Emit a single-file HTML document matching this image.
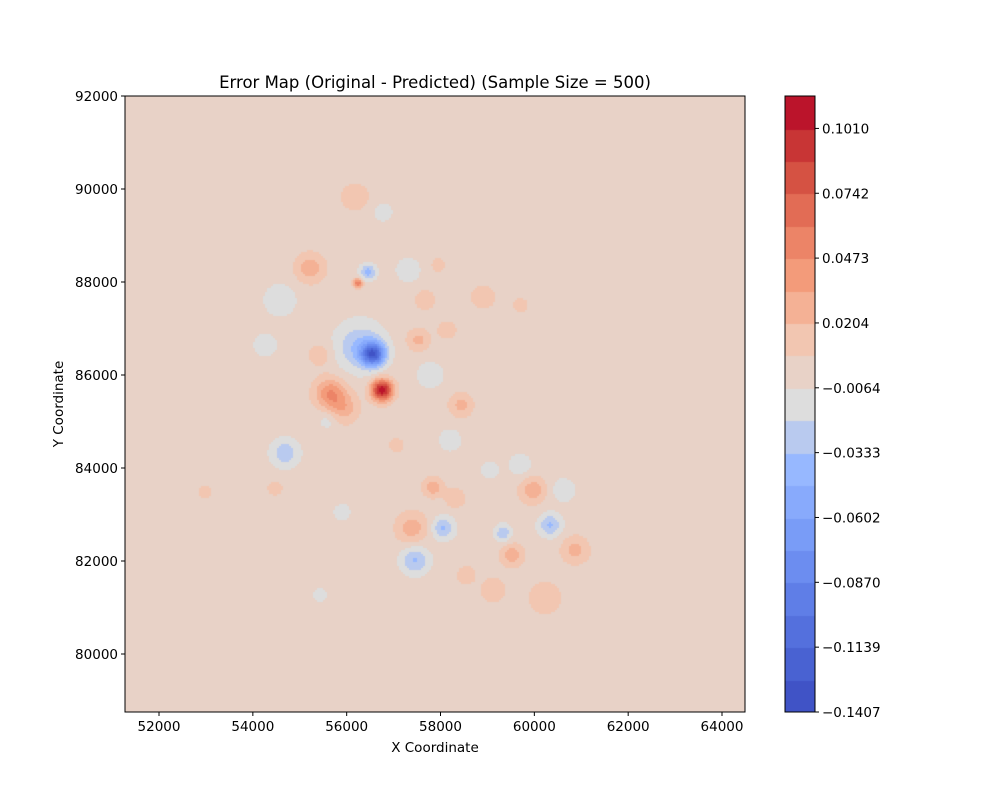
<!DOCTYPE html>
<html><head><meta charset="utf-8">
<style>
body{margin:0;background:#fff;}
#fig{position:relative;width:1000px;height:800px;background:#fff;font-family:"DejaVu Sans","Liberation Sans",sans-serif;}
canvas{position:absolute;}
svg{position:absolute;left:0;top:0;font-family:"DejaVu Sans","Liberation Sans",sans-serif;}
</style></head>
<body>
<div id="fig">
<canvas id="map" width="620" height="616" style="left:125px;top:96px"></canvas>
<canvas id="cbar" width="30" height="616" style="left:785px;top:96px"></canvas>
<svg id="ax" width="1000" height="800"></svg>
</div>
<script>
// blob data: centers (data units), amplitudes, spreads
const blobX=[56560,56285,56754,55646,55923,55219,56456,56243,56179,56776,57842,58055,57458,57394,58439,59974,60336,60613,59526,60869,60230,59121,54686,59697,59334,57522,58140,54580,54260,54473,52981,55433,55902,55433,57778,57671,57309,58908,55603,57053,59057,58545,57948,59697,58204,58311];
const blobY=[86450,86600,85676,85611,85289,88300,88214,87978,89827,89505,83590,82708,82019,82708,85353,83525,82772,83525,82127,82234,81202,81374,84321,84063,82600,86752,86967,87612,86644,83568,83482,81267,83052,86429,85999,87612,88257,87676,85031,84493,83955,81697,88365,87504,84600,83353];
const blobA=[-0.11,-0.035,0.112,0.045,0.028,0.03,-0.04,0.06,0.016,-0.014,0.03,-0.035,-0.035,0.028,0.025,0.03,-0.035,-0.015,0.03,0.025,0.017,0.017,-0.03,-0.015,-0.03,0.025,0.016,-0.015,-0.014,0.016,0.016,-0.015,-0.014,0.016,-0.015,0.02,-0.015,0.016,-0.015,0.016,-0.014,0.016,0.016,0.016,-0.014,0.02];
const blobS=[170,360,160,230,230,220,120,70,230,160,150,170,210,240,180,200,170,200,170,210,260,200,210,190,130,170,150,270,200,120,100,110,140,190,220,150,200,200,150,120,150,150,110,120,190,150];
const levelMin=-0.1407, levelStep=0.0134285, nLevels=19;
const xTicks=[52000,54000,56000,58000,60000,62000,64000];
const yTicks=[80000,82000,84000,86000,88000,90000,92000];
const cbTicks=["-0.1407","-0.1139","-0.0870","-0.0602","-0.0333","-0.0064","0.0204","0.0473","0.0742","0.1010"];

const X0=51275,X1=64490,Y0=78753,Y1=92000;
const L=125,T=96,W=620,H=616;
const sx=v=>L+(v-X0)/(X1-X0)*W, sy=v=>T+(Y1-v)/(Y1-Y0)*H;
const cw=[[0,59,76,192],[0.1,77,104,215],[0.2,98,130,234],[0.3,124,159,249],[0.4,152,185,255],[0.5,221,221,221],[0.6,242,200,180],[0.7,245,160,126],[0.8,230,116,90],[0.9,205,66,57],[1,180,4,38]];
function coolwarm(t){for(let i=1;i<cw.length;i++){if(t<=cw[i][0]){const a=cw[i-1],b=cw[i],f=(t-a[0])/(b[0]-a[0]);return [0,1,2].map(k=>Math.round(a[k+1]+(b[k+1]-a[k+1])*f));}}return cw[cw.length-1].slice(1);}
const bandCol=[];for(let k=0;k<nLevels;k++)bandCol.push(coolwarm((k+0.5)/nLevels));

function field(x,y){let v=0;for(let i=0;i<blobX.length;i++){const dx=x-blobX[i],dy=y-blobY[i];v+=blobA[i]*Math.exp(-(dx*dx+dy*dy)/(2*blobS[i]*blobS[i]));}return v;}
const ctx=document.getElementById('map').getContext('2d');
const img=ctx.createImageData(W,H);
const step=2;
for(let py=0;py<H;py+=step)for(let px=0;px<W;px+=step){
 const x=X0+(px+1)/W*(X1-X0), y=Y1-(py+1)/H*(Y1-Y0);
 let k=Math.floor((field(x,y)-levelMin)/levelStep);k=Math.max(0,Math.min(nLevels-1,k));
 const c=bandCol[k];
 for(let a=0;a<step;a++)for(let b=0;b<step;b++){const idx=((py+a)*W+px+b)*4;img.data[idx]=c[0];img.data[idx+1]=c[1];img.data[idx+2]=c[2];img.data[idx+3]=255;}
}
ctx.putImageData(img,0,0);
const cb=document.getElementById('cbar').getContext('2d');
for(let k=0;k<nLevels;k++){const c=bandCol[k];cb.fillStyle=`rgb(${c[0]},${c[1]},${c[2]})`;const y0=H-(k+1)*H/nLevels;cb.fillRect(0,Math.floor(y0),30,Math.ceil(H/nLevels)+1);}

const svg=document.getElementById('ax');const NS='http://www.w3.org/2000/svg';
function el(tag,attrs,txt){const e=document.createElementNS(NS,tag);for(const k in attrs)e.setAttribute(k,attrs[k]);if(txt!==undefined)e.textContent=txt;svg.appendChild(e);return e;}
let e;
e=el('rect',{x:L,y:T,width:W,height:H,fill:'none',stroke:'#000','stroke-width':1});


e=el('rect',{x:785,y:T,width:30,height:H,fill:'none',stroke:'#000','stroke-width':1});


xTicks.forEach(v=>{const x=sx(v);
 e=el('line',{x1:x,x2:x,y1:T+H,y2:T+H+4,stroke:'#000'});
 
 
 e=el('text',{x:x,y:T+H+19,'text-anchor':'middle','font-size':13.5},String(v));
 
 });
yTicks.forEach(v=>{const y=sy(v);
 e=el('line',{x1:L-4,x2:L,y1:y,y2:y,stroke:'#000'});
 
 
 e=el('text',{x:L-7,y:y+5,'text-anchor':'end','font-size':13.5},String(v));
 
 });
cbTicks.forEach((t,i)=>{const y=T+H-(2*i)*H/nLevels;
 e=el('line',{x1:815,x2:819,y1:y,y2:y,stroke:'#000'});
 
 
 e=el('text',{x:822,y:y+5,'font-size':13.5},t.replace('-','\u2212'));
 
 });
e=el('text',{x:435,y:88,'text-anchor':'middle','font-size':16.5},'Error Map (Original - Predicted) (Sample Size = 500)');


e=el('text',{x:435,y:752,'text-anchor':'middle','font-size':13.5},'X Coordinate');


e=el('text',{x:63,y:404,'text-anchor':'middle','font-size':13.5,transform:'rotate(-90 63 404)'},'Y Coordinate');


</script>
</body></html>
